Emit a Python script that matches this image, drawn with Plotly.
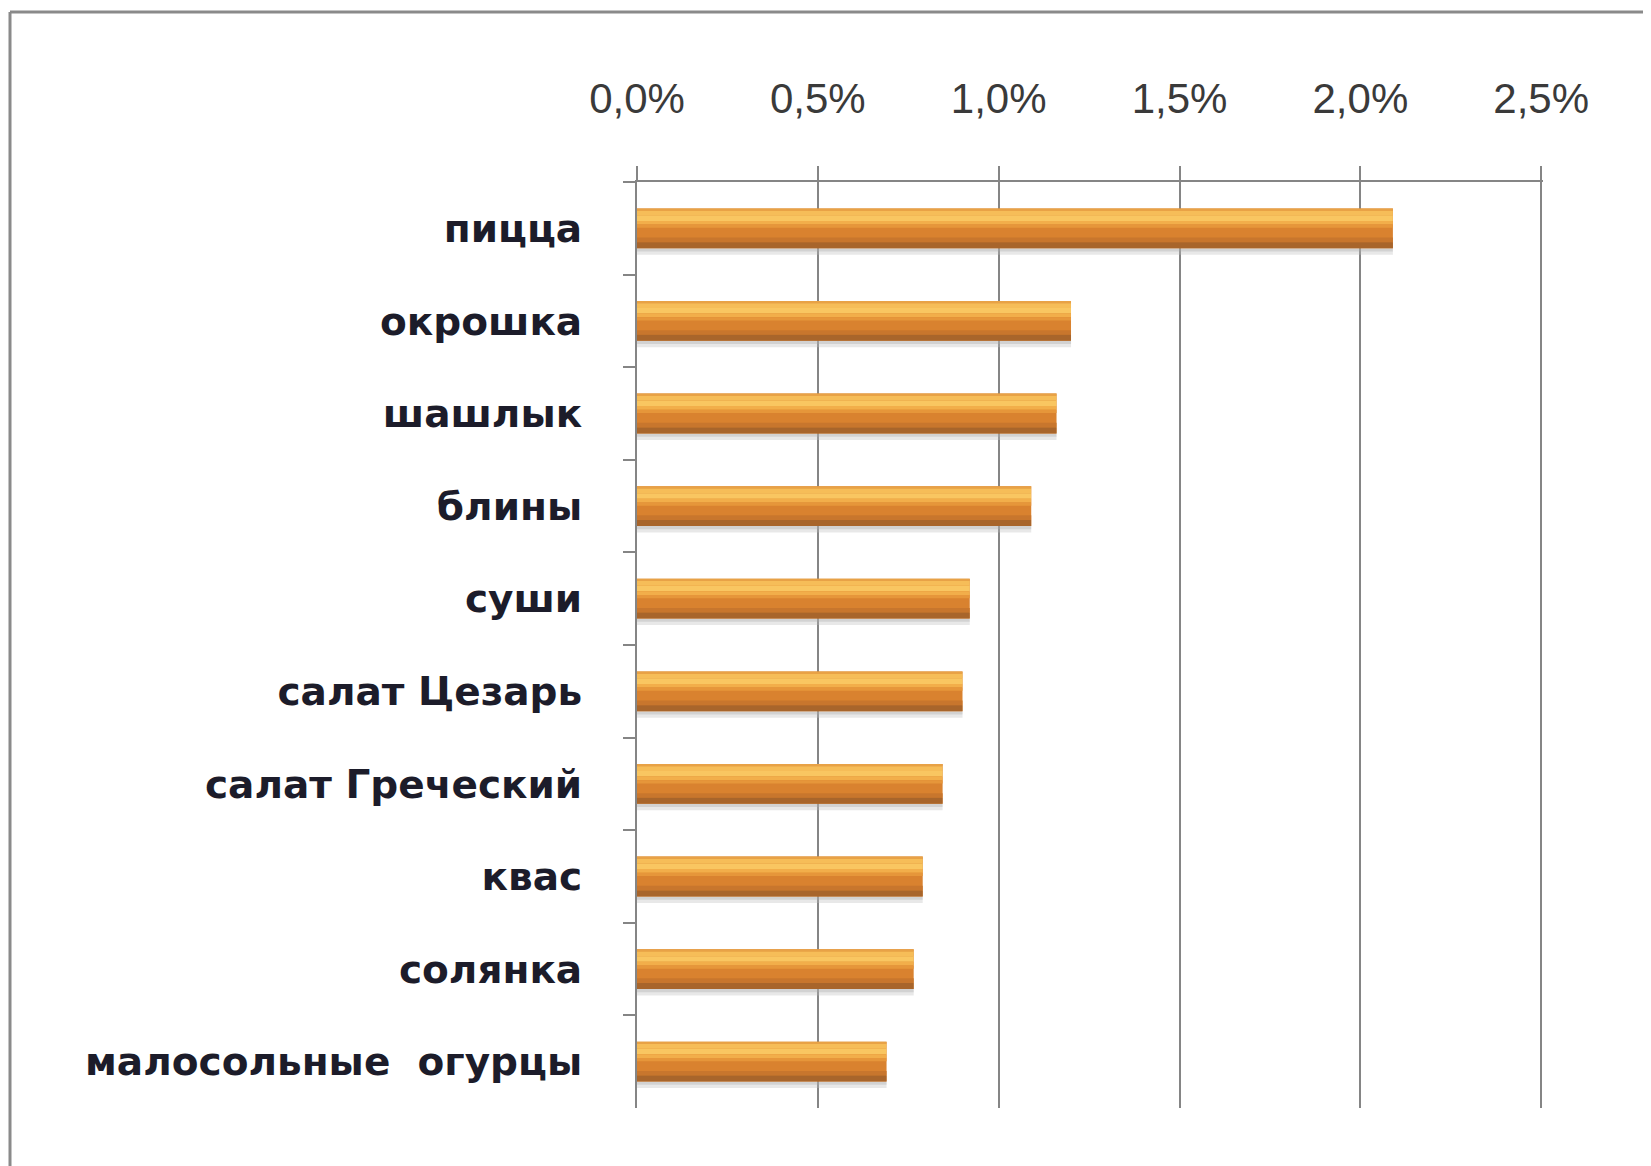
import plotly.graph_objects as go

categories = ["пицца", "окрошка", "шашлык", "блины", "суши", "салат Цезарь",
              "салат Греческий", "квас", "солянка", "малосольные  огурцы"]
values = [2.09, 1.20, 1.16, 1.09, 0.92, 0.90, 0.845, 0.79, 0.765, 0.69]
tick_vals = [0, 0.5, 1.0, 1.5, 2.0, 2.5]
tick_text = ["0,0%", "0,5%", "1,0%", "1,5%", "2,0%", "2,5%"]

# page has an 8px body margin, so figure coords = page coords - 8
W, H = 1643, 1158
L, T = 629, 174
X_MAX = 2.505
pw = round(904 * X_MAX / 2.5)
ph = 926
R = W - L - pw
B = H - T - ph

# layered strips (offset, width, colour) imitating the cylinder shading
strips = [
    (0.215, 0.07, "rgba(190,190,190,0.35)"),   # soft shadow
    (0.215, 0.035, "rgba(170,170,170,0.35)"),
    (-0.215, 0.43, "#D9822F"),
    (-0.215, 0.025, "#E8A246"),
    (-0.19, 0.05, "#F6BD58"),
    (-0.14, 0.06, "#F9C661"),
    (-0.08, 0.04, "#F2AE4A"),
    (-0.04, 0.035, "#E6963A"),
    (0.10, 0.05, "#C8762D"),
    (0.15, 0.065, "#A8652B"),
]

fig = go.Figure()
for off, wid, col in strips:
    fig.add_trace(go.Bar(
        y=categories, x=values, orientation="h",
        offset=off, width=wid,
        marker=dict(color=col, line=dict(width=0)),
        hoverinfo="skip", showlegend=False,
    ))

fig.update_layout(
    width=W, height=H,
    margin=dict(l=L, r=R, t=T, b=B, pad=0),
    paper_bgcolor="white", plot_bgcolor="white",
    barmode="overlay",
    separators=", ",
    xaxis=dict(
        side="top", range=[0, X_MAX], tickvals=tick_vals, ticktext=tick_text,
        showgrid=True, gridcolor="#858585", gridwidth=2,
        showline=True, linecolor="#858585", linewidth=2,
        ticks="outside", ticklen=14, tickcolor="#858585", tickwidth=2,
        tickfont=dict(family="Liberation Sans", size=42, color="#3a3a3a"),
        ticklabelstandoff=36, zeroline=False,
    ),
    yaxis=dict(
        autorange="reversed", type="category",
        showline=True, linecolor="#858585", linewidth=2,
        ticks="outside", ticklen=12, tickcolor="#858585", tickwidth=2,
        tickson="boundaries", showgrid=False,
        tickfont=dict(family="DejaVu Sans", size=39, color="#1c1c2a", weight="bold"),
        ticklabelstandoff=45,
    ),
    shapes=[
        dict(type="line", xref="paper", yref="paper",
             x0=(2 - L) / pw, x1=(W + 20 - L) / pw,
             y0=(H - B - 4) / ph, y1=(H - B - 4) / ph,
             line=dict(color="#8a8a8a", width=3)),
        dict(type="line", xref="paper", yref="paper",
             x0=(2 - L) / pw, x1=(2 - L) / pw,
             y0=(H - B - 4) / ph, y1=(H - B - H - 20) / ph,
             line=dict(color="#8a8a8a", width=3)),
    ],
)

fig.write_html("out.html")
